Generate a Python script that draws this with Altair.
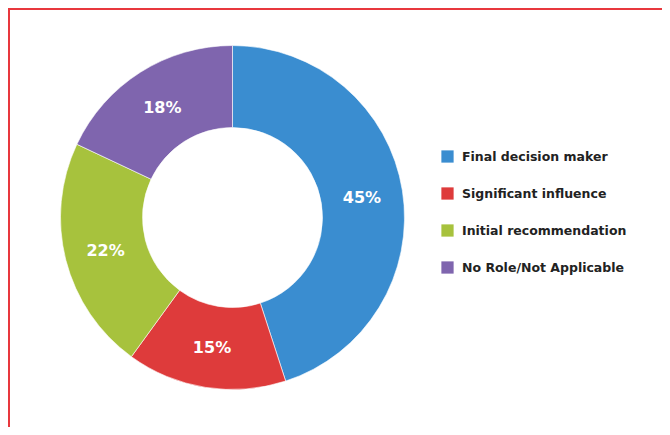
import altair as alt
import pandas as pd

categories = ["Final decision maker", "Significant influence", "Initial recommendation", "No Role/Not Applicable"]
values = [45, 15, 22, 18]
labels = ["45%", "15%", "22%", "18%"]
colors = ["#3a8dd0", "#de3b3b", "#a7c23d", "#7f65ae"]

df = pd.DataFrame({"category": categories, "value": values, "label": labels, "idx": list(range(len(categories)))})

W, H = 654, 419
CX, CY = 224.5, 209.5

color = alt.Color("category:N", sort=categories,
                  scale=alt.Scale(domain=categories, range=colors),
                  legend=alt.Legend(title=None, orient="none", legendX=433, legendY=142,
                                    symbolType="square", symbolSize=150, symbolStrokeWidth=0,
                                    symbolOpacity=1,
                                    labelFont="DejaVu Sans", labelFontWeight="bold", labelFontSize=12.5,
                                    labelColor="#222222", labelOffset=8, rowPadding=24, labelLimit=300))

base = alt.Chart(df).encode(
    theta=alt.Theta("value:Q", stack=True),
    order=alt.Order("idx:Q"),
)

arcs = base.mark_arc(outerRadius=172, innerRadius=90, stroke="#ffffff", strokeWidth=0.6).encode(
    color=color, x=alt.value(CX), y=alt.value(CY))

text = base.mark_text(radius=131, fontSize=16, fontWeight="bold", font="DejaVu Sans", color="white").encode(
    text="label:N", x=alt.value(CX), y=alt.value(CY + 1))

frame = alt.Chart(df).mark_rect(fill=None, stroke="#e8383d", strokeWidth=2).encode(
    x=alt.value(1), x2=alt.value(W + 20), y=alt.value(1), y2=alt.value(H + 20))

chart = alt.layer(frame, arcs, text).properties(
    width=W, height=H, autosize=alt.AutoSizeParams(type="none"), padding=0
).configure_view(stroke=None)

chart.save("out.html", embed_options={"renderer": "svg", "actions": False})
